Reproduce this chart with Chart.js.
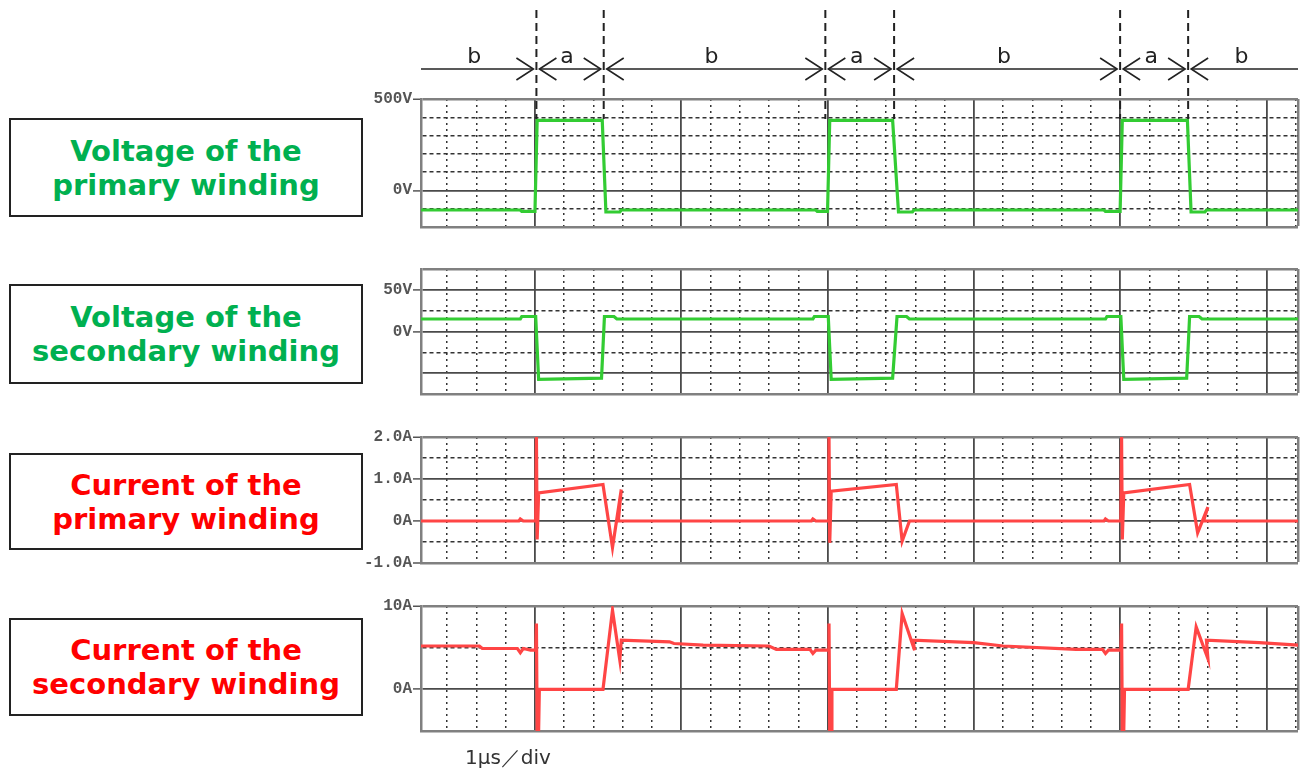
<!DOCTYPE html>
<html>
<head>
<meta charset="utf-8">
<script src="https://cdn.jsdelivr.net/npm/chart.js@4.4.1/dist/chart.umd.min.js"></script>
<style>
    html, body { margin: 0; padding: 0; background: #fff; }
    body { width: 1300px; height: 773px; position: relative; overflow: hidden; font-family: 'DejaVu Sans', sans-serif; }
    .panel { position: absolute; left: 0; width: 1300px; }
    .label {
        position: absolute; left: 9px; width: 354px; box-sizing: border-box;
        border: 2px solid #222; display: flex; align-items: center; justify-content: center;
        text-align: center; font-weight: bold; font-size: 29px; line-height: 34px;
    }
    .label--volt { color: #00b050; }
    .label--amp  { color: #ff0000; }
    .div-note { position: absolute; left: 465px; top: 744px; font-size: 20px; color: #333; }
</style>
</head>
<body>

<div class="label label--volt" style="top:118px;height:99px">Voltage of the<br>primary winding</div>
<div class="label label--volt" style="top:284px;height:100px">Voltage of the<br>secondary winding</div>
<div class="label label--amp"  style="top:453px;height:97px">Current of the<br>primary winding</div>
<div class="label label--amp"  style="top:618px;height:98px">Current of the<br>secondary winding</div>

<div class="panel" style="top:0;height:240px"><canvas id="pv"></canvas></div>
<div class="panel" style="top:255px;height:150px"><canvas id="sv"></canvas></div>
<div class="panel" style="top:420px;height:160px"><canvas id="pc"></canvas></div>
<div class="panel" style="top:590px;height:183px"><canvas id="sc"></canvas></div>

<div class="div-note">1μs／div</div>

<script>
// time axis in µs (1 div = 1 µs), screen starts a bit before the first switch-on
const TIME_MIN  = -0.779;
const TIME_MAX  = 5.216;
const TIME_STEP = 0.2;

// switching edges and the a / b intervals between them
const switchTimes   = [0.01, 0.47, 1.985, 2.455, 4.0, 4.465];
const intervalNames = ['b', 'a', 'b', 'a', 'b', 'a', 'b'];

// primary winding voltage (V)
const pvTime  = [-0.78, -0.1, -0.09, 0.0, 0.015, 0.46, 0.485, 0.58, 0.59,
                 1.92, 1.93, 2.0, 2.015, 2.445, 2.485, 2.58, 2.59,
                 3.89, 3.9, 4.0, 4.015, 4.46, 4.485, 4.58, 4.59, 5.22];
const pvValue = [-107, -107, -115, -115, 383, 383, -118, -118, -107,
                 -107, -115, -115, 383, 383, -118, -118, -107,
                 -107, -115, -115, 383, 383, -118, -118, -107, -107];
const pvTickValues = [500, 0];
const pvTickText   = ['500V', '0V'];

// secondary winding voltage (V)
const svTime  = [-0.78, -0.1, -0.09, 0.005, 0.025, 0.455, 0.475, 0.54, 0.56,
                 1.9, 1.91, 2.005, 2.025, 2.445, 2.475, 2.54, 2.56,
                 3.9, 3.91, 4.005, 4.025, 4.455, 4.475, 4.54, 4.56, 5.22];
const svValue = [15, 15, 18, 18, -57.5, -56, 18, 18, 15,
                 15, 18, 18, -57.5, -56, 18, 18, 15,
                 15, 18, 18, -57.5, -56, 18, 18, 15, 15];
const svTickValues = [50, 0];
const svTickText   = ['50V', '0V'];

// primary winding current (A)
const pcTime  = [-0.78, -0.11, -0.1, -0.08, 0.005, 0.01, 0.015, 0.025, 0.465, 0.53, 0.59, 0.57,
                 1.89, 1.9, 1.92, 2.005, 2.01, 2.015, 2.025, 2.47, 2.51, 2.56,
                 3.89, 3.9, 3.92, 4.005, 4.01, 4.015, 4.025, 4.475, 4.53, 4.6, 4.57, 5.22];
const pcValue = [0, 0, 0.05, 0, 0, 2.0, -0.44, 0.67, 0.87, -0.63, 0.75, 0,
                 0, 0.05, 0, 0, 2.0, -0.52, 0.71, 0.87, -0.48, 0,
                 0, 0.05, 0, 0, 2.0, -0.44, 0.67, 0.87, -0.28, 0.33, 0, 0];
const pcTickValues = [2, 1, 0, -1];
const pcTickText   = ['2.0A', '1.0A', '0A', '-1.0A'];

// secondary winding current (A)
const scTime  = [-0.78, -0.38, -0.36, -0.12, -0.1, -0.08, -0.03, 0.005, 0.01, 0.015, 0.025, 0.03,
                 0.465, 0.53, 0.58, 0.59, 0.92, 0.95, 1.15, 1.6, 1.65, 1.88, 1.9, 1.92,
                 2.005, 2.01, 2.015, 2.025, 2.03, 2.47, 2.51, 2.595, 2.585, 3.0, 3.2, 3.7, 3.88, 3.9, 3.92,
                 4.005, 4.01, 4.015, 4.025, 4.03, 4.465, 4.52, 4.6, 4.59, 4.95, 5.22];
const scValue = [5.2, 5.2, 4.9, 4.9, 4.4, 4.9, 4.7, 4.7, 7.9, -5, -5, 0,
                 0, 9.5, 3.5, 5.9, 5.7, 5.5, 5.3, 5.2, 4.8, 4.8, 4.3, 4.7,
                 4.7, 7.9, -5, -5, 0, 0, 9.1, 4.7, 5.9, 5.6, 5.2, 4.8, 4.8, 4.3, 4.7,
                 4.7, 7.9, -5, -5, 0, 0, 7.5, 3.7, 5.9, 5.6, 5.3];
const scTickValues = [10, 0];
const scTickText   = ['10A', '0A'];

const GREEN = '#33cc33';
const RED   = '#ff4545';

const GRID_COLOR = { edge: '#808080', major: '#4a4a4a', minor: '#333', none: 'rgba(0,0,0,0)' };
const GRID_WIDTH = { edge: 2.5,       major: 1.8,       minor: 1.5,    none: 0 };

function gridKind(ctx, major) {
    if (!ctx.tick) return 'major';
    const v = ctx.tick.value;
    const s = ctx.scale;
    if (Math.abs(v - s.max) < 1e-9) return 'edge';
    if (Math.abs(v - s.min) < 1e-9) return 'none';
    const r = v / major;
    return Math.abs(r - Math.round(r)) < 1e-6 ? 'major' : 'minor';
}

function gridOptions(major) {
    return {
        color:     ctx => GRID_COLOR[gridKind(ctx, major)],
        lineWidth: ctx => GRID_WIDTH[gridKind(ctx, major)],
    };
}

function borderOptions(major, dash) {
    return {
        color: '#808080',
        width: 2.5,
        dash:  ctx => (ctx.tick && gridKind(ctx, major) === 'minor') ? dash : [],
    };
}

// 0.2 µs sub-divisions, plus both screen edges
function timeTicks(scale) {
    const ticks = [{ value: scale.min }];
    for (let k = Math.ceil(scale.min / TIME_STEP); k * TIME_STEP < scale.max - 1e-6; k++) {
        ticks.push({ value: Math.round(k * TIME_STEP * 10) / 10 });
    }
    ticks.push({ value: scale.max });
    scale.ticks = ticks;
}

function arrowHead(ctx, tipX, y, dir) {
    ctx.beginPath();
    ctx.moveTo(tipX + dir * 17, y - 11);
    ctx.lineTo(tipX, y);
    ctx.lineTo(tipX + dir * 17, y + 11);
    ctx.stroke();
}

// dashed switching edges and a/b interval arrows above the first panel
const switchMarks = {
    id: 'switchMarks',
    afterDatasetsDraw(chart) {
        const { ctx, chartArea, scales: { x } } = chart;
        const edges  = switchTimes.map(t => x.getPixelForValue(t));
        const bounds = [chartArea.left, ...edges, chartArea.right];
        const arrowY = chartArea.top - 30;
        const last   = intervalNames.length - 1;

        ctx.save();
        ctx.strokeStyle = '#222';
        ctx.lineWidth = 2;
        ctx.setLineDash([8, 5]);
        edges.forEach(px => {
            ctx.beginPath();
            ctx.moveTo(px, 10);
            ctx.lineTo(px, chartArea.top + 20);
            ctx.stroke();
        });

        ctx.setLineDash([]);
        ctx.lineWidth = 1.6;
        ctx.font = '22px "DejaVu Sans"';
        ctx.textAlign = 'center';
        ctx.fillStyle = '#222';
        intervalNames.forEach((name, i) => {
            const from = bounds[i] + (i > 0 ? 3 : 0);
            const to   = bounds[i + 1] - (i < last ? 3 : 0);
            ctx.beginPath();
            ctx.moveTo(from, arrowY);
            ctx.lineTo(to, arrowY);
            ctx.stroke();
            if (i > 0) arrowHead(ctx, from, arrowY, 1);
            if (i < last) arrowHead(ctx, to, arrowY, -1);
            ctx.fillText(name, (from + to) / 2 - 3, arrowY - 6);
        });
        ctx.restore();
    },
};

function makePanel(id, time, value, color, range, tickValues, tickText, pad, plugins) {
    return new Chart(document.getElementById(id), {
        type: 'scatter',
        data: {
            datasets: [{
                data:        time.map((t, i) => ({ x: t, y: value[i] })),
                showLine:    true,
                borderColor: color,
                borderWidth: 3.2,
                pointRadius: 0,
                tension:     0,
            }],
        },
        options: {
            responsive:          true,
            maintainAspectRatio: false,
            animation:           false,
            layout:  { padding: { left: 0, right: 2, top: pad.top, bottom: pad.bottom } },
            plugins: { legend: { display: false }, tooltip: { enabled: false } },
            scales: {
                x: {
                    type: 'linear',
                    min:  TIME_MIN,
                    max:  TIME_MAX,
                    ticks:  { display: false },
                    grid:   { ...gridOptions(1), drawTicks: false },
                    border: borderOptions(1, [2, 4]),
                    afterBuildTicks: timeTicks,
                    afterFit: s => { s.height = 0; },
                },
                y: {
                    min: range.min,
                    max: range.max,
                    ticks: {
                        stepSize: range.step,
                        autoSkip: false,
                        padding:  1,
                        color:    '#555',
                        font:     { family: 'Liberation Mono', size: 16, weight: 'bold' },
                        callback: v => {
                            const i = tickValues.indexOf(v);
                            return i >= 0 ? tickText[i] : '';
                        },
                    },
                    grid: {
                        ...gridOptions(range.major),
                        tickLength: 8,
                        tickWidth:  1.5,
                        tickColor:  ctx => (ctx.tick && tickValues.includes(ctx.tick.value)) ? '#555' : 'rgba(0,0,0,0)',
                    },
                    border: borderOptions(range.major, [4, 3]),
                    afterFit: s => { s.width = 421; },
                },
            },
        },
        plugins: plugins || [],
    });
}

makePanel('pv', pvTime, pvValue, GREEN, { min: -200, max: 500, step: 100, major: 500 },
          pvTickValues, pvTickText, { top: 99, bottom: 13 }, [switchMarks]);
makePanel('sv', svTime, svValue, GREEN, { min: -75, max: 75, step: 25, major: 50 },
          svTickValues, svTickText, { top: 14, bottom: 11 });
makePanel('pc', pcTime, pcValue, RED, { min: -1, max: 2, step: 0.5, major: 1 },
          pcTickValues, pcTickText, { top: 17, bottom: 17 });
makePanel('sc', scTime, scValue, RED, { min: -5, max: 10, step: 5, major: 10 },
          scTickValues, scTickText, { top: 16, bottom: 42 });
</script>
</body>
</html>
